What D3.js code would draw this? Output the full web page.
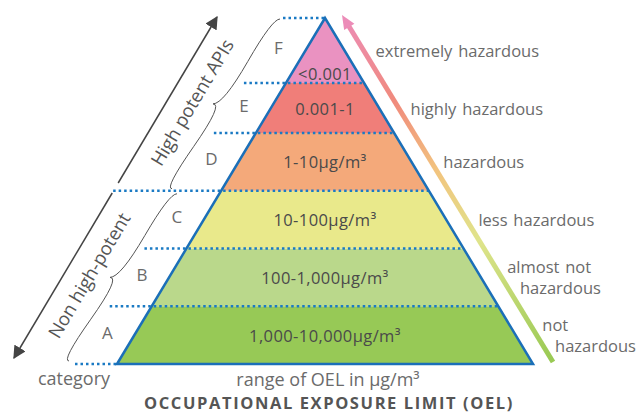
<!DOCTYPE html>
<html>
<head>
<meta charset="utf-8">
<script src="https://cdn.jsdelivr.net/npm/d3@7"></script>
<style>
  body { margin: 0; background: #fff; }
  svg text { font-family: "Open Sans", sans-serif; }
</style>
</head>
<body>
<div id="chart"></div>
<script>
// categories bottom -> top
var categories = ['A', 'B', 'C', 'D', 'E', 'F'];
var oelRanges = ['1,000-10,000µg/m³', '100-1,000µg/m³', '10-100µg/m³', '1-10µg/m³', '0.001-1', '<0.001'];
var hazardLabels = [['not', 'hazardous'], ['almost not', 'hazardous'], ['less hazardous'], ['hazardous'], ['highly hazardous'], ['extremely hazardous']];
var groups = [{name: 'Non high-potent', from: 0, to: 3}, {name: 'High potent APIs', from: 3, to: 6}];
var bandColors = ['#97c956', '#bad88b', '#e9e98b', '#f4a97a', '#f07e79', '#ea92c1'];

var width = 640, height = 412;
var svg = d3.select('#chart').append('svg').attr('width', width).attr('height', height);
var defs = svg.append('defs');

var y = d3.scaleLinear().domain([0, 4, 5, 6]).range([364, 133, 83, 18]);
var cx = 325;
var halfW = d3.scaleLinear().domain([364, 18]).range([208, 0]);
function leftX(v) { return cx - halfW(v); }
function rightX(v) { return cx + halfW(v); }

var blue = '#1b6fb8';
var grey = '#6b6b6b';

// bands
svg.append('g').selectAll('path').data(categories).enter().append('path')
  .attr('d', function(d, i) {
    var y0 = y(i), y1 = y(i + 1);
    return 'M' + leftX(y0) + ',' + y0 + 'L' + rightX(y0) + ',' + y0 + 'L' + rightX(y1) + ',' + y1 + 'L' + leftX(y1) + ',' + y1 + 'Z';
  })
  .attr('fill', function(d, i) { return bandColors[i]; });

// dotted level lines
var levels = d3.range(0, 7);
svg.append('g').selectAll('line').data(levels).enter().append('line')
  .attr('x1', function(l) { return leftX(y(l)) - (l === 3 ? 108 : 42); })
  .attr('x2', function(l) { return l === 0 ? leftX(y(l)) : rightX(y(l)); })
  .attr('y1', function(l) { return y(l); })
  .attr('y2', function(l) { return y(l); })
  .attr('stroke', '#1a7ac4').attr('stroke-width', 2.5)
  .attr('stroke-dasharray', '2.5,3');

// outline
svg.append('path')
  .attr('d', 'M' + leftX(y(0)) + ',' + y(0) + 'L' + cx + ',' + y(6) + 'L' + rightX(y(0)) + ',' + y(0) + 'Z')
  .attr('fill', 'none').attr('stroke', blue).attr('stroke-width', 2.5).attr('stroke-linejoin', 'miter');

// band labels
svg.append('g').selectAll('text').data(oelRanges).enter().append('text')
  .attr('x', cx)
  .attr('y', function(d, i) { return i === 5 ? y(5.15) + 7 : y(i + 0.5) + 6.5; })
  .attr('text-anchor', 'middle')
  .attr('font-size', 16.5).attr('letter-spacing', 0.4).attr('fill', '#4a4a4a')
  .text(function(d) { return d; });

// category letters
svg.append('g').selectAll('text').data(categories).enter().append('text')
  .attr('x', function(d, i) { return leftX(y(i + 0.5)) - 27; })
  .attr('y', function(d, i) { return y(i + 0.5) - 3; })
  .attr('text-anchor', 'middle').attr('dominant-baseline', 'central')
  .attr('font-size', 17).attr('fill', grey)
  .text(function(d) { return d; });

// hazard arrow
var hz = {x1: 553, y1: 362, x2: 342, y2: 15};
var grad = defs.append('linearGradient').attr('id', 'hz')
  .attr('gradientUnits', 'userSpaceOnUse')
  .attr('x1', hz.x1).attr('y1', hz.y1).attr('x2', hz.x2).attr('y2', hz.y2);
[[0, '#98c953'], [0.35, '#dfe48b'], [0.55, '#f2c47e'], [0.75, '#f08a7c'], [1, '#ec8cb8']].forEach(function(s) {
  grad.append('stop').attr('offset', s[0]).attr('stop-color', s[1]);
});
var ang = Math.atan2(hz.y2 - hz.y1, hz.x2 - hz.x1);
var ux = Math.cos(ang), uy = Math.sin(ang);
var headL = 14, headW = 6;
svg.append('line')
  .attr('x1', hz.x1).attr('y1', hz.y1)
  .attr('x2', hz.x2 - ux * headL * 0.8).attr('y2', hz.y2 - uy * headL * 0.8)
  .attr('stroke', 'url(#hz)').attr('stroke-width', 5);
svg.append('path')
  .attr('d', 'M' + hz.x2 + ',' + hz.y2 +
    'L' + (hz.x2 - ux * headL - uy * headW) + ',' + (hz.y2 - uy * headL + ux * headW) +
    'L' + (hz.x2 - ux * headL + uy * headW) + ',' + (hz.y2 - uy * headL - ux * headW) + 'Z')
  .attr('fill', '#ec8cb8');

function hzX(v) { return hz.x1 + (v - hz.y1) * (hz.x2 - hz.x1) / (hz.y2 - hz.y1); }

// hazard labels
hazardLabels.forEach(function(lines, i) {
  var mid = y(i + 0.5);
  lines.forEach(function(t, j) {
    var ly = mid + (j - (lines.length - 1) / 2) * 21;
    svg.append('text')
      .attr('x', hzX(ly) + 12).attr('y', ly)
      .attr('dominant-baseline', 'central')
      .attr('font-size', 16.5).attr('word-spacing', 1.5).attr('fill', grey)
      .text(t);
  });
});

// left arrows
defs.append('marker').attr('id', 'ah').attr('viewBox', '0 0 10 10')
  .attr('refX', 9).attr('refY', 5).attr('markerWidth', 13).attr('markerHeight', 13)
  .attr('markerUnits', 'userSpaceOnUse').attr('orient', 'auto')
  .append('path').attr('d', 'M0,0L10,5L0,10Z').attr('fill', '#444');

var axA = {x: 217, y: 17}, axB = {x: 14, y: 358};
function axX(v) { return axA.x + (v - axA.y) * (axB.x - axA.x) / (axB.y - axA.y); }
svg.append('line').attr('x1', axX(183)).attr('y1', 183).attr('x2', axA.x).attr('y2', axA.y)
  .attr('stroke', '#444').attr('stroke-width', 1.5).attr('marker-end', 'url(#ah)');
svg.append('line').attr('x1', axX(193)).attr('y1', 193).attr('x2', axB.x).attr('y2', axB.y)
  .attr('stroke', '#444').attr('stroke-width', 1.5).attr('marker-end', 'url(#ah)');

// sheared curly brace: bulges horizontally by w (to the left)
function curlyBrace(x1, y1, x2, y2, w, q) {
  var dx = x1 - x2, dy = y1 - y2;
  var len = Math.sqrt(dx * dx + dy * dy);
  dx = dx / len; dy = dy / len;
  var ox = -w, oy = 0;
  var qx1 = x1 + q * ox, qy1 = y1 + q * oy;
  var qx2 = (x1 - .25 * len * dx) + (1 - q) * ox, qy2 = (y1 - .25 * len * dy) + (1 - q) * oy;
  var tx1 = (x1 - .5 * len * dx) + ox, ty1 = (y1 - .5 * len * dy) + oy;
  var qx3 = x2 + q * ox, qy3 = y2 + q * oy;
  var qx4 = (x1 - .75 * len * dx) + (1 - q) * ox, qy4 = (y1 - .75 * len * dy) + (1 - q) * oy;
  return 'M' + x1 + ',' + y1 + 'Q' + qx1 + ',' + qy1 + ' ' + qx2 + ',' + qy2 + 'T' + tx1 + ',' + ty1 +
    'M' + x2 + ',' + y2 + 'Q' + qx3 + ',' + qy3 + ' ' + qx4 + ',' + qy4 + 'T' + tx1 + ',' + ty1;
}
var textAngle = Math.atan2(axA.y - axB.y, axA.x - axB.x) * 180 / Math.PI;

groups.forEach(function(g) {
  var yTop, yBot, xTop, xBot;
  if (g.to === 6) { yTop = y(6) + 1; xTop = 280; yBot = y(3) - 2; xBot = 172; }
  else { yTop = y(3) + 3; xTop = 177; yBot = y(0) - 3; xBot = 69; }
  svg.append('path').attr('d', curlyBrace(xTop, yTop, xBot, yBot, 13, 0.6))
    .attr('fill', 'none').attr('stroke', '#555').attr('stroke-width', 1);
  var my = (y(g.from) + y(g.to)) / 2 - 2.5;
  svg.append('text')
    .attr('transform', 'translate(' + (axX(my) + 25) + ',' + my + ') rotate(' + textAngle + ')')
    .attr('text-anchor', 'middle').attr('dominant-baseline', 'central')
    .attr('font-size', 18.5).attr('fill', '#555')
    .text(g.name);
});

// bottom labels
svg.append('text').attr('x', 74).attr('y', 385).attr('text-anchor', 'middle')
  .attr('font-size', 18).attr('fill', grey).text('category');
svg.append('text').attr('x', 328).attr('y', 386).attr('text-anchor', 'middle')
  .attr('font-size', 18).attr('fill', grey).text('range of OEL in µg/m³');
svg.append('text').attr('x', 329).attr('y', 408.5).attr('text-anchor', 'middle')
  .attr('font-size', 16.5).attr('font-weight', 'bold')
  .attr('letter-spacing', 1.6).attr('fill', '#555').text('OCCUPATIONAL EXPOSURE LIMIT (OEL)');
</script>
</body>
</html>
